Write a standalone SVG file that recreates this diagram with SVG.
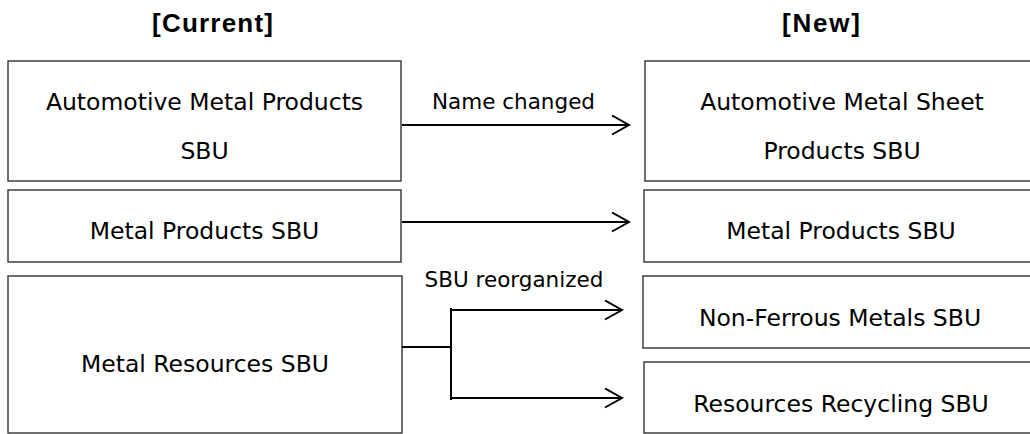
<svg xmlns="http://www.w3.org/2000/svg" width="1030" height="434" viewBox="0 0 1030 434">
<style>
.box{fill:#fff;stroke:#333;stroke-width:1.4}
.t{font-family:"DejaVu Sans",sans-serif;font-size:23.5px;fill:#000;text-anchor:middle}
.lbl{font-family:"DejaVu Sans",sans-serif;font-size:21.5px;fill:#000;text-anchor:middle}
.hd{font-family:"Liberation Sans",Arial,sans-serif;font-size:26px;font-weight:bold;fill:#000;text-anchor:middle}
.c{fill:none;stroke:#000;stroke-width:2}
</style>
<defs>
<marker id="chev" markerUnits="userSpaceOnUse" markerWidth="20" markerHeight="22" refX="18" refY="10.5" orient="auto" viewBox="0 0 20 22">
<path d="M1,1 L18,10.5 L1,20" fill="none" stroke="#000" stroke-width="2"/>
</marker>
</defs>
<rect width="1030" height="434" fill="#fff"/>
<text class="hd" x="212.5" y="32" textLength="121" lengthAdjust="spacing">[Current]</text>
<text class="hd" x="821" y="32" textLength="78" lengthAdjust="spacing">[New]</text>
<g id="cur-auto"><rect class="box" x="8" y="61" width="393" height="120"/><text class="t" x="204.5" y="110">Automotive Metal Products</text><text class="t" x="204.5" y="159">SBU</text></g>
<g id="cur-metal"><rect class="box" x="8" y="190" width="393" height="72"/><text class="t" x="204.5" y="239">Metal Products SBU</text></g>
<g id="cur-res"><rect class="box" x="8" y="276" width="394" height="157"/><text class="t" x="205" y="372">Metal Resources SBU</text></g>
<g id="new-auto"><rect class="box" x="645" y="61" width="396" height="120"/><text class="t" x="842" y="110">Automotive Metal Sheet</text><text class="t" x="842" y="159">Products SBU</text></g>
<g id="new-metal"><rect class="box" x="644" y="190" width="396" height="72"/><text class="t" x="841" y="239">Metal Products SBU</text></g>
<g id="new-nonferrous"><rect class="box" x="643" y="276" width="397" height="72"/><text class="t" x="840" y="326">Non-Ferrous Metals SBU</text></g>
<g id="new-recycling"><rect class="box" x="644" y="362" width="396" height="71"/><text class="t" x="841" y="412">Resources Recycling SBU</text></g>
<g id="connectors">
<path class="c" d="M402,125 H629" marker-end="url(#chev)"/>
<path class="c" d="M402,222 H629" marker-end="url(#chev)"/>
<path class="c" d="M402,347 H451 M451,308 V400"/>
<path class="c" d="M451,310 H622" marker-end="url(#chev)"/>
<path class="c" d="M451,398 H622" marker-end="url(#chev)"/>
<text class="lbl" x="513.5" y="109">Name changed</text>
<text class="lbl" x="514" y="287">SBU reorganized</text>
</g>
</svg>
